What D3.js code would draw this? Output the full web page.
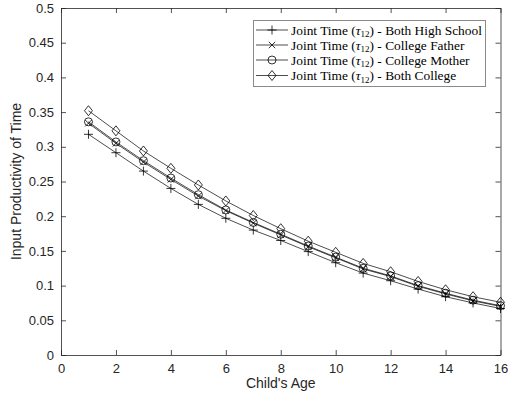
<!DOCTYPE html>
<html><head><meta charset="utf-8">
<script src="https://cdn.jsdelivr.net/npm/d3@7"></script>
<style>body{margin:0;background:#fff;} svg{display:block;}</style>
</head><body>
<svg id="c" width="508" height="404"></svg>
<script>
const ages = [1,2,3,4,5,6,7,8,9,10,11,12,13,14,15,16];
const bothHighSchool = [0.318,0.2915,0.265,0.240,0.217,0.197,0.180,0.165,0.149,0.133,0.118,0.107,0.095,0.084,0.075,0.067];
const collegeFather  = [0.334,0.305,0.278,0.253,0.229,0.208,0.190,0.173,0.156,0.140,0.124,0.113,0.099,0.088,0.078,0.070];
const collegeMother  = [0.336,0.307,0.280,0.255,0.231,0.209,0.191,0.174,0.157,0.141,0.125,0.114,0.100,0.089,0.079,0.071];
const bothCollege    = [0.352,0.323,0.294,0.269,0.245,0.222,0.201,0.182,0.164,0.148,0.132,0.120,0.106,0.094,0.084,0.076];
const seriesNames = ["Both High School","College Father","College Mother","Both College"];
const markerTypes = ["plus","cross","circle","diamond"];
const xTicks = [0,2,4,6,8,10,12,14,16];
const yTicks = [0,0.05,0.1,0.15,0.2,0.25,0.3,0.35,0.4,0.45,0.5];

const seriesValues = [bothHighSchool, collegeFather, collegeMother, bothCollege];
const svg = d3.select("#c");
const L=61, R=500.5, T=8, B=355;
const x = d3.scaleLinear().domain([0,16]).range([L,R]);
const y = d3.scaleLinear().domain([0,0.5]).range([B,T]);
const axisColor = "#262626";
const fontSans = "'Liberation Sans', Arial, sans-serif";

function styleAxis(g, labels){
  g.select(".domain").attr("stroke", axisColor).attr("stroke-width",0.8);
  g.selectAll(".tick line").attr("stroke", axisColor).attr("stroke-width",0.8);
  g.selectAll(".tick text").attr("fill", axisColor).style("font-family", fontSans).style("font-size","13px");
  if(!labels) g.selectAll(".tick text").remove();
}
const fmtY = d => d===0 ? "0" : String(+d.toFixed(2));
const gb = svg.append("g").attr("transform",`translate(0,${B})`)
  .call(d3.axisBottom(x).tickValues(xTicks).tickSizeInner(-5).tickSizeOuter(0).tickPadding(9).tickFormat(d3.format("d")));
styleAxis(gb,true);
const gt = svg.append("g").attr("transform",`translate(0,${T})`)
  .call(d3.axisTop(x).tickValues(xTicks).tickSizeInner(-5).tickSizeOuter(0));
styleAxis(gt,false);
const gl = svg.append("g").attr("transform",`translate(${L},0)`)
  .call(d3.axisLeft(y).tickValues(yTicks).tickSizeInner(-5).tickSizeOuter(0).tickPadding(7).tickFormat(fmtY));
styleAxis(gl,true);
const gr = svg.append("g").attr("transform",`translate(${R},0)`)
  .call(d3.axisRight(y).tickValues(yTicks).tickSizeInner(-5).tickSizeOuter(0));
styleAxis(gr,false);

svg.append("text").attr("x",(L+R)/2).attr("y",388).attr("text-anchor","middle")
  .attr("fill",axisColor).style("font-family",fontSans).style("font-size","14px").text("Child's Age");
svg.append("text").attr("transform",`translate(21,${(T+B)/2}) rotate(-90)`).attr("text-anchor","middle")
  .attr("fill",axisColor).style("font-family",fontSans).style("font-size","14px").text("Input Productivity of Time");

function marker(g, type, cx, cy){
  const s = g.append("path").attr("fill","none").attr("stroke","#000").attr("stroke-width",0.8);
  let d="";
  if(type==="plus"){ d=`M${cx-4.5},${cy}H${cx+4.5}M${cx},${cy-4.5}V${cy+4.5}`; }
  else if(type==="cross"){ d=`M${cx-3.2},${cy-3.2}L${cx+3.2},${cy+3.2}M${cx-3.2},${cy+3.2}L${cx+3.2},${cy-3.2}`; }
  else if(type==="circle"){ d=`M${cx+4},${cy}A4,4 0 1,1 ${cx-4},${cy}A4,4 0 1,1 ${cx+4},${cy}`; }
  else if(type==="diamond"){ d=`M${cx},${cy-5}L${cx+4},${cy}L${cx},${cy+5}L${cx-4},${cy}Z`; }
  s.attr("d", d);
}

const line = d3.line().x((d,i)=>x(ages[i])).y(d=>y(d));
seriesValues.forEach((vals, k)=>{
  const g = svg.append("g");
  g.append("path").datum(vals).attr("d", line).attr("fill","none").attr("stroke","#000").attr("stroke-width",0.7);
  vals.forEach((v,i)=> marker(g, markerTypes[k], x(ages[i]), y(v)));
});

const lg = svg.append("g");
lg.append("rect").attr("x",253.5).attr("y",20.5).attr("width",232).attr("height",66)
  .attr("fill","#fff").attr("stroke","#8a8a8a").attr("stroke-width",1);
const rowY = [30, 45, 60, 75.5];
seriesNames.forEach((name,k)=>{
  const yy = rowY[k];
  lg.append("line").attr("x1",256).attr("x2",288).attr("y1",yy).attr("y2",yy).attr("stroke","#000").attr("stroke-width",0.7);
  marker(lg, markerTypes[k], 272, yy);
  const t = lg.append("text").attr("x",291).attr("y",yy+4.5).attr("fill","#000")
    .style("font-family","'Liberation Serif', 'Times New Roman', serif").style("font-size","13.4px");
  t.append("tspan").text("Joint Time (");
  t.append("tspan").style("font-style","italic").text("τ");
  t.append("tspan").attr("dy",2.5).style("font-size","9px").text("12");
  t.append("tspan").attr("dy",-2.5).text(") - " + name);
});
</script>
</body></html>
